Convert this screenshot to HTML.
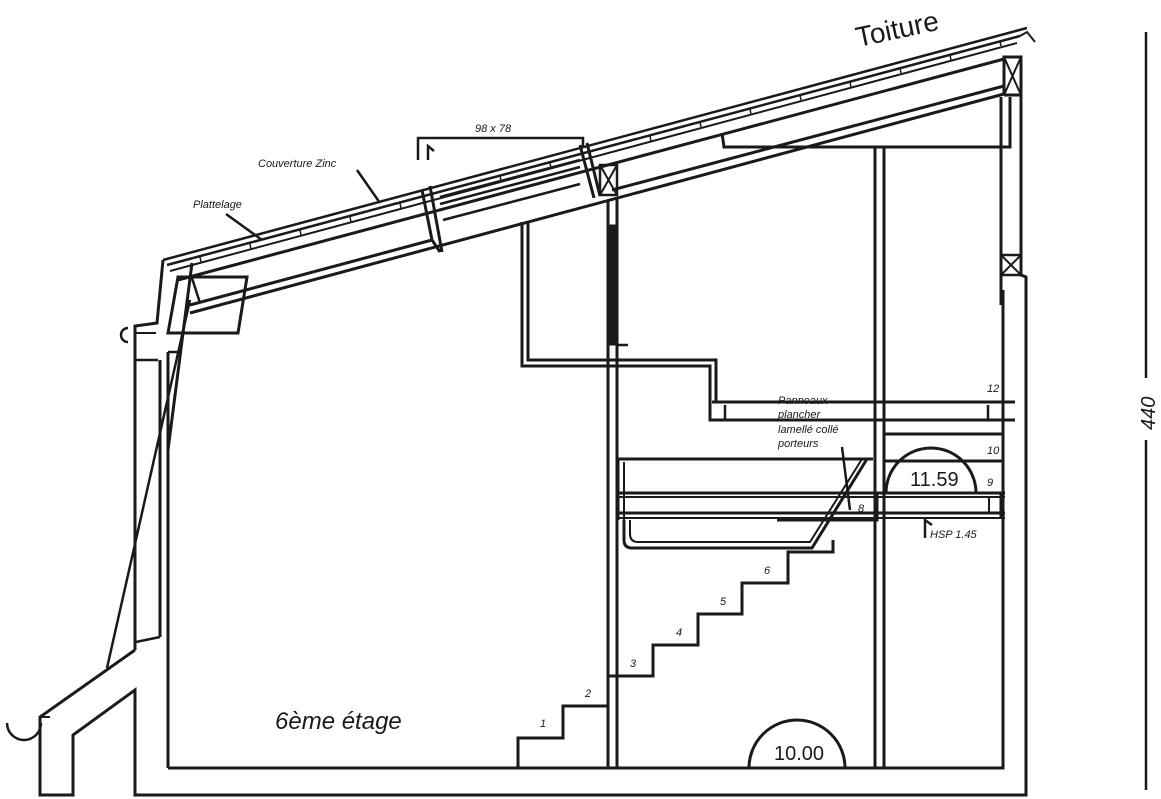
<!DOCTYPE html>
<html><head><meta charset="utf-8"><style>
html,body{margin:0;padding:0;background:#fff;}
svg{display:block;}
text{font-family:"Liberation Sans",sans-serif;fill:#1a1a1a;}
</style></head><body>
<svg width="1161" height="799" viewBox="0 0 1161 799" xmlns="http://www.w3.org/2000/svg">
<g fill="none" stroke="#1a1a1a" stroke-width="3" stroke-linejoin="miter">
<!-- roof layers: r(x)=260-0.269(x-163) -->
<line x1="163" y1="260" x2="1027" y2="28" stroke-width="2.5"/>
<line x1="167" y1="265" x2="1020" y2="36" stroke-width="2.5"/>
<line x1="170" y1="271" x2="1017" y2="43" stroke-width="2"/>
<polyline points="1020,36 1027,32 1035,42" stroke-width="2"/>
<!-- beam top -->
<line x1="178" y1="280" x2="1004" y2="59"/>
<!-- beam bottom left segment -->
<line x1="190" y1="305" x2="432" y2="240"/>
<!-- soffit -->
<line x1="190" y1="313" x2="1004" y2="94"/>
<line x1="612" y1="190" x2="1004" y2="86"/>
<!-- skylight -->
<polyline points="422,190 432,240 440,252"/>
<line x1="430" y1="186" x2="442" y2="252"/>
<line x1="580" y1="145" x2="594" y2="198"/>
<line x1="587" y1="143" x2="600" y2="196"/>
<line x1="440" y1="197" x2="580" y2="160" stroke-width="2.5"/>
<line x1="440" y1="204" x2="580" y2="167" stroke-width="2.5"/>
<line x1="443" y1="220" x2="580" y2="184" stroke-width="2.5"/>
<rect x="600" y="165" width="17" height="30" stroke-width="2.5"/>
<line x1="600" y1="165" x2="617" y2="195" stroke-width="2"/><line x1="617" y1="165" x2="600" y2="195" stroke-width="2"/>
<!-- dimension 98x78 -->
<polyline points="418,160 418,138 583,138 583,147" stroke-width="2.5"/>
<polyline points="428,160 428,146 434,151" stroke-width="2.5"/>
<!-- eave -->
<polyline points="163,260 157,323 135,326 135,650"/>
<path d="M128,328 a7,7 0 0 0 0,14" stroke-width="2.5"/>
<line x1="135" y1="333" x2="156" y2="333" stroke-width="2"/>
<polygon points="178,277 247,277 238,333 168,333"/>
<line x1="192" y1="263" x2="168" y2="450"/>
<line x1="192" y1="278" x2="200" y2="303" stroke-width="2.5"/>
<line x1="190" y1="300" x2="107" y2="668" stroke-width="2.5"/>
<line x1="136" y1="360" x2="158" y2="360" stroke-width="2.5"/>
<line x1="160" y1="360" x2="160" y2="637"/>
<line x1="168" y1="352" x2="168" y2="768"/>
<line x1="168" y1="352" x2="180" y2="352" stroke-width="2.5"/>
<line x1="136" y1="642" x2="160" y2="637" stroke-width="2.5"/>
<!-- lower left -->
<polyline points="135,650 40,717 40,795 73,795 73,735 135,690 135,795 1026,795 1026,277 1021,275 1021,57 1004,57 1004,95"/>
<path d="M7,723 a17,17 0 0 0 34,0" stroke-width="2.5"/>
<line x1="40" y1="717" x2="50" y2="717" stroke-width="2"/>
<!-- interior floor -->
<polyline points="168,768 1003,768 1003,290"/>
<!-- right wall -->
<line x1="1001" y1="97" x2="1001" y2="305"/>
<line x1="1004" y1="57" x2="1021" y2="95" stroke-width="2"/><line x1="1021" y1="57" x2="1004" y2="95" stroke-width="2"/>
<line x1="1004" y1="95" x2="1021" y2="95"/>
<rect x="1001" y="255" width="20" height="20" stroke-width="2.5"/>
<line x1="1001" y1="255" x2="1021" y2="275" stroke-width="2"/><line x1="1021" y1="255" x2="1001" y2="275" stroke-width="2"/>
<!-- ceiling right -->
<polyline points="722,133 724,147 1010,147 1010,97"/>
<line x1="875" y1="147" x2="875" y2="768"/>
<line x1="884" y1="147" x2="884" y2="768"/>
<!-- central wall -->
<polyline points="522,222 522,366 710,366 710,420 1003,420"/>
<polyline points="528,222 528,360 716,360 716,402"/>
<line x1="608" y1="200" x2="608" y2="768"/>
<line x1="617" y1="198" x2="617" y2="768"/>
<rect x="608" y="225" width="9" height="120" fill="#1a1a1a" stroke-width="1"/>
<line x1="617" y1="345" x2="628" y2="345" stroke-width="2.5"/>
<!-- upper slab -->
<line x1="712" y1="402" x2="1015" y2="402"/>
<line x1="712" y1="420" x2="1015" y2="420"/>
<line x1="725" y1="405" x2="725" y2="420" stroke-width="2.5"/>
<line x1="988" y1="405" x2="988" y2="420" stroke-width="2.5"/>
<line x1="884" y1="434" x2="1003" y2="434"/>
<line x1="884" y1="461" x2="1003" y2="461"/>
<!-- lower mezzanine -->
<polyline points="618,520 618,459 873,459"/>
<line x1="624" y1="462" x2="624" y2="520" stroke-width="2"/>
<line x1="618" y1="493" x2="1005" y2="493"/>
<line x1="618" y1="497" x2="1005" y2="497" stroke-width="2"/>
<line x1="618" y1="513" x2="1005" y2="513"/>
<line x1="618" y1="518" x2="1005" y2="518" stroke-width="2"/>
<line x1="1001" y1="493" x2="1001" y2="518"/>
<line x1="989" y1="497" x2="989" y2="513" stroke-width="2"/>
<polyline points="777,520 877,520 877,493"/>
<path d="M624,520 v20 q0,8 8,8 h180 l55,-89" stroke-width="3"/>
<path d="M630,520 v14 q0,8 8,8 h172 l52,-83" stroke-width="2"/>
<line x1="842" y1="447" x2="850" y2="510" stroke-width="2.5"/>
<path d="M886,493 a45,45 0 0 1 90,0"/>
<!-- HSP -->
<polyline points="925,538 925,520 932,525" stroke-width="2.5"/>
<!-- stairs -->
<polyline points="518,768 518,738 563,738 563,706 608,706"/>
<polyline points="608,676 653,676 653,645 698,645 698,614 742,614 742,583 788,583 788,552 833,552 833,540"/>
<path d="M749,768 a48,48 0 0 1 96,0"/>
<!-- dimension line -->
<line x1="1146" y1="32" x2="1146" y2="378" stroke-width="2.5"/>
<line x1="1146" y1="440" x2="1146" y2="790" stroke-width="2.5"/>
<!-- leaders -->
<line x1="357" y1="170" x2="380" y2="203" stroke-width="2.5"/>
<line x1="226" y1="214" x2="262" y2="240" stroke-width="2.5"/>
</g>
<g stroke="#1a1a1a" stroke-width="1.5">
<line x1="200" y1="257" x2="201" y2="262"/><line x1="250" y1="244" x2="251" y2="249"/><line x1="300" y1="230" x2="301" y2="235"/><line x1="350" y1="217" x2="351" y2="222"/><line x1="400" y1="203" x2="401" y2="208"/><line x1="500" y1="176" x2="501" y2="181"/><line x1="550" y1="163" x2="551" y2="168"/><line x1="650" y1="136" x2="651" y2="141"/><line x1="700" y1="122" x2="701" y2="127"/><line x1="750" y1="109" x2="751" y2="114"/><line x1="800" y1="95" x2="801" y2="100"/><line x1="850" y1="82" x2="851" y2="87"/><line x1="900" y1="68" x2="901" y2="73"/><line x1="950" y1="55" x2="951" y2="60"/><line x1="1000" y1="41" x2="1001" y2="46"/>
</g>
<text x="858" y="47" font-size="28" transform="rotate(-12 858 47)">Toiture</text>
<text x="1155" y="430" font-size="20" font-style="italic" transform="rotate(-90 1155 430)">440</text>
<text x="475" y="132" font-size="11" font-style="italic">98 x 78</text>
<text x="258" y="167" font-size="11" font-style="italic">Couverture Zinc</text>
<text x="193" y="208" font-size="11" font-style="italic">Plattelage</text>
<text x="778" y="404" font-size="11" font-style="italic">Panneaux</text>
<text x="778" y="418" font-size="11" font-style="italic">plancher</text>
<text x="778" y="433" font-size="11" font-style="italic">lamellé collé</text>
<text x="778" y="447" font-size="11" font-style="italic">porteurs</text>
<text x="910" y="486" font-size="20">11.59</text>
<text x="774" y="760" font-size="20">10.00</text>
<text x="275" y="729" font-size="24" font-style="italic">6ème étage</text>
<text x="930" y="538" font-size="11" font-style="italic">HSP 1.45</text>
<g font-size="11" font-style="italic">
<text x="540" y="727">1</text><text x="585" y="697">2</text><text x="630" y="667">3</text><text x="676" y="636">4</text><text x="720" y="605">5</text><text x="764" y="574">6</text><text x="858" y="512">8</text><text x="987" y="486">9</text><text x="987" y="454">10</text><text x="987" y="392">12</text>
</g>
</svg>
</body></html>
